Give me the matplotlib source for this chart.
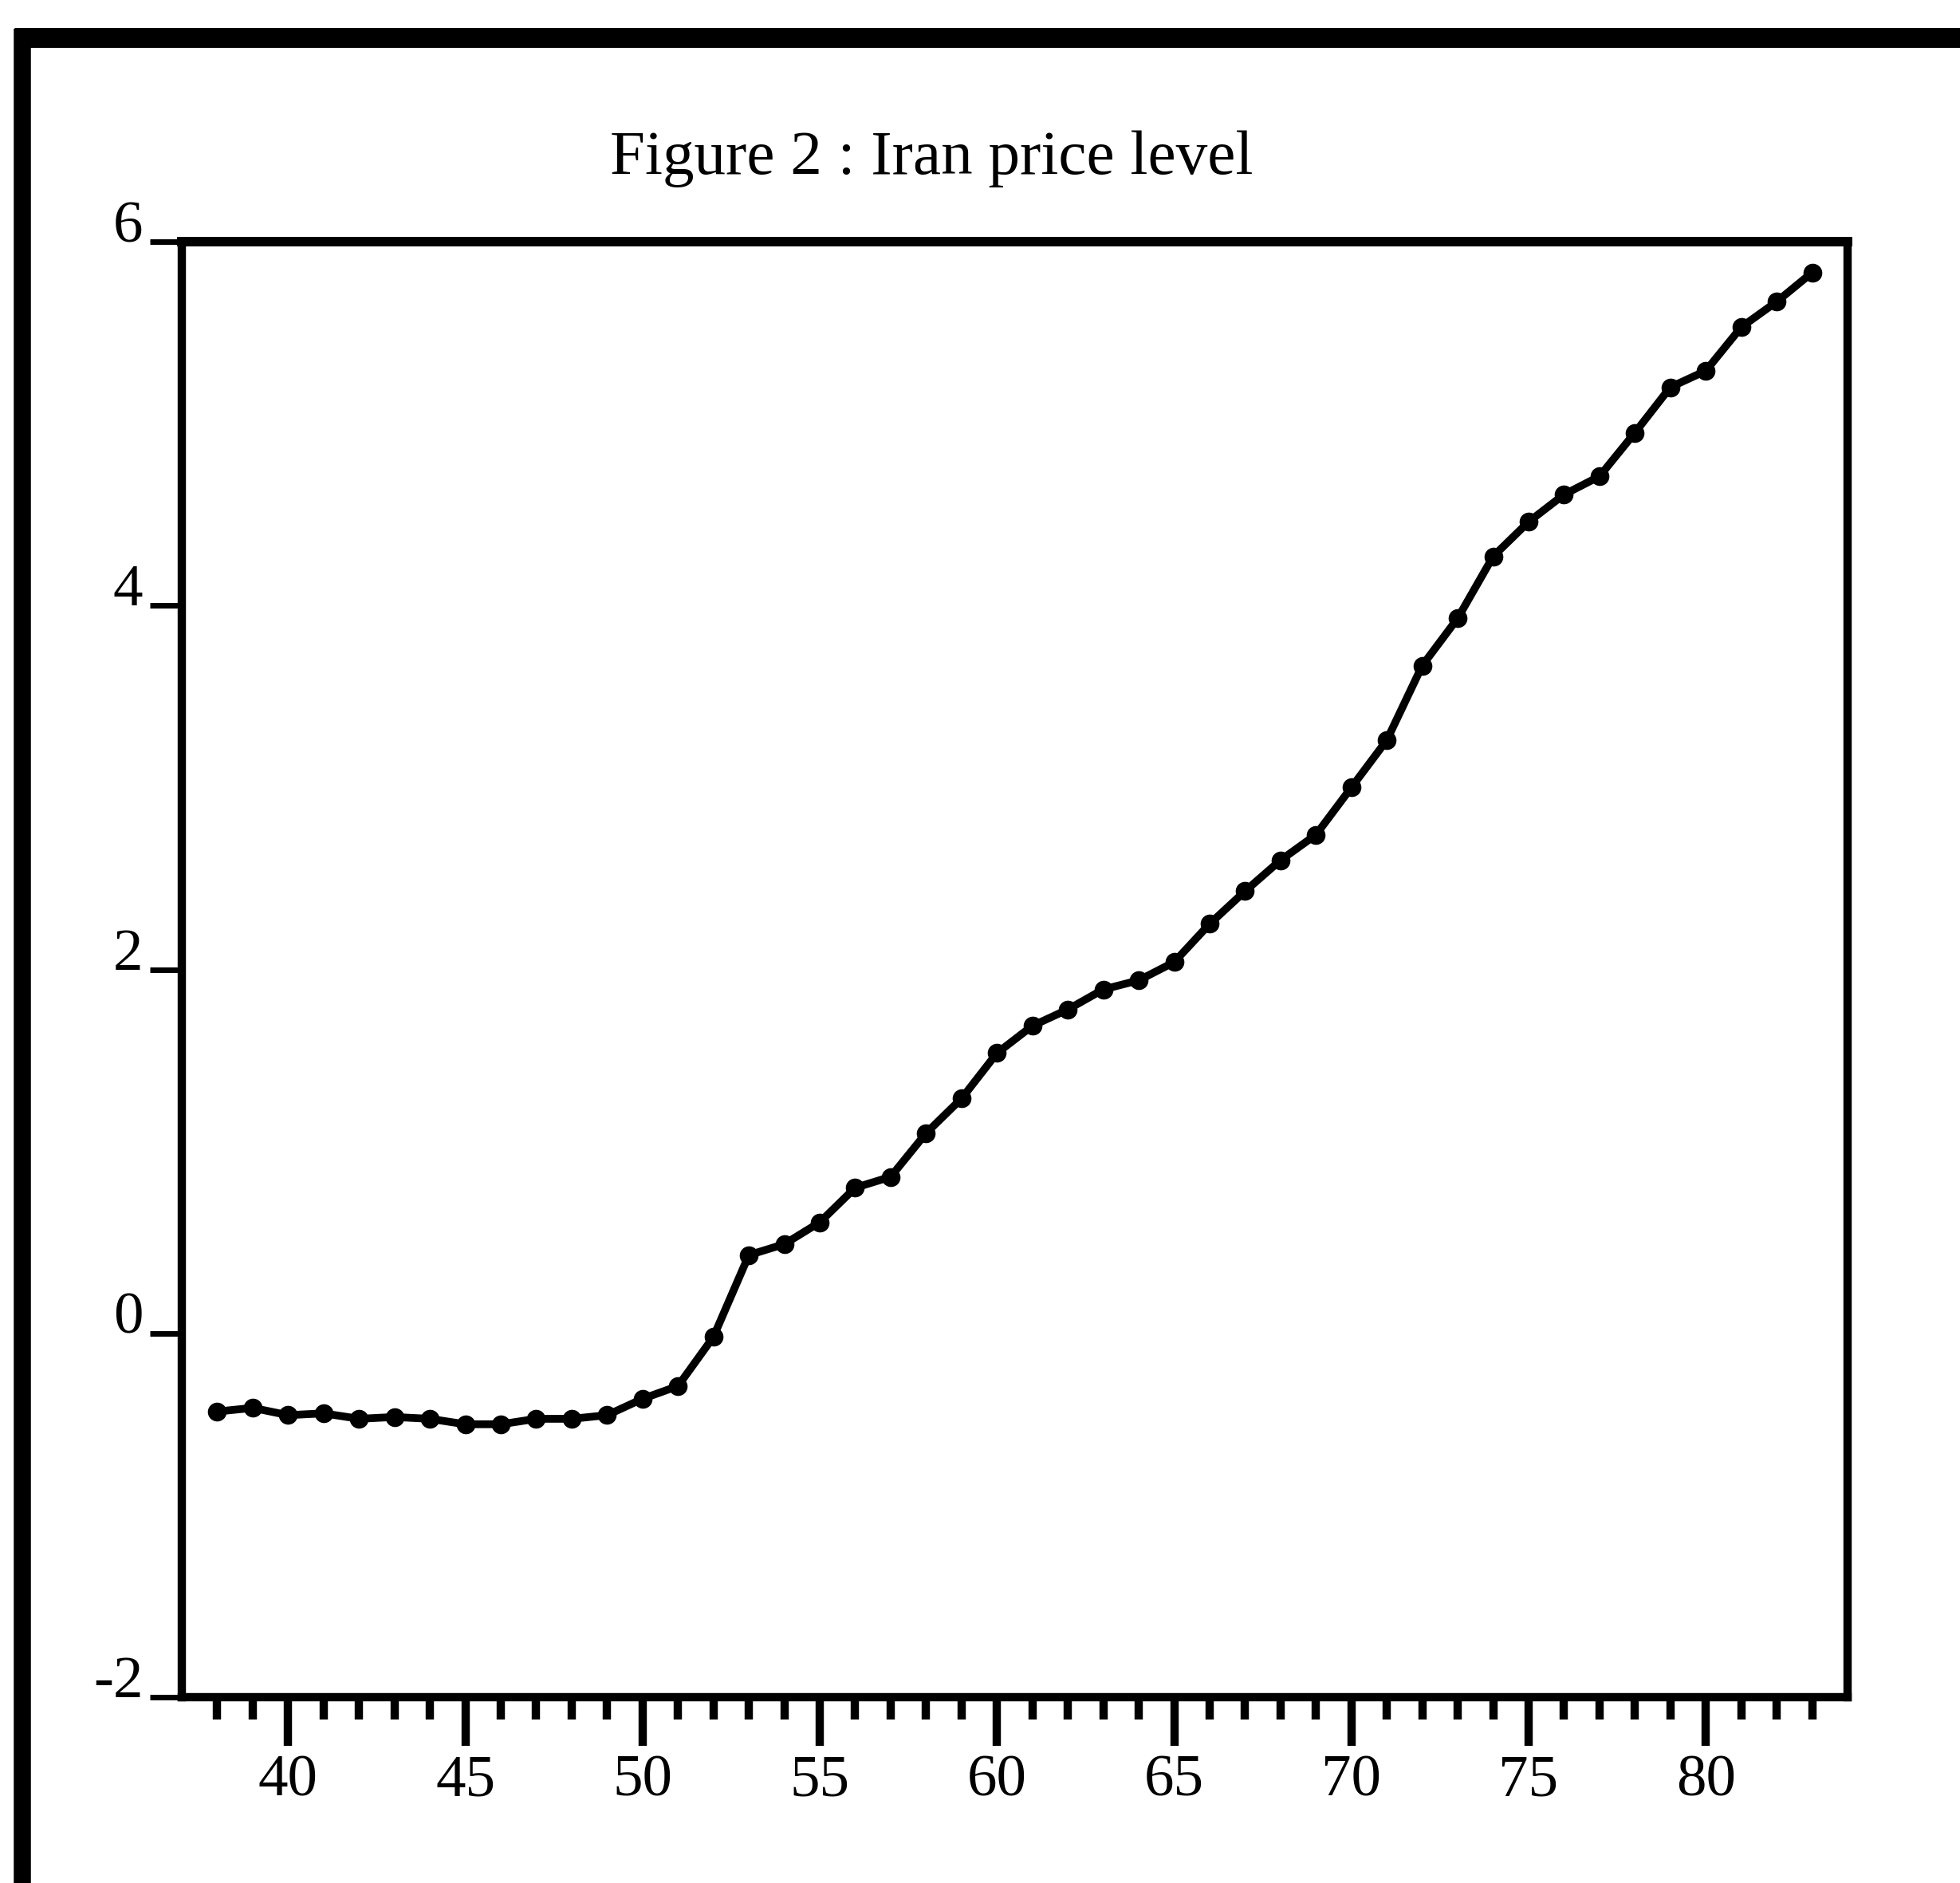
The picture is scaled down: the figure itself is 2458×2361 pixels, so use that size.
import matplotlib
matplotlib.use("Agg")
import matplotlib.pyplot as plt
from matplotlib.lines import Line2D
from matplotlib.ticker import FixedLocator

# ---- data ----
years = list(range(38, 84))
price_level = [-0.43, -0.41, -0.45, -0.44, -0.47, -0.46, -0.47, -0.50, -0.50, -0.47,
               -0.47, -0.45, -0.36, -0.29, -0.02, 0.43, 0.49, 0.61, 0.80, 0.86,
               1.10, 1.29, 1.54, 1.69, 1.78, 1.89, 1.94, 2.04, 2.25, 2.43,
               2.60, 2.74, 3.00, 3.26, 3.67, 3.93, 4.27, 4.46, 4.61, 4.71,
               4.95, 5.20, 5.29, 5.53, 5.67, 5.83]
x_major_ticks = [40, 45, 50, 55, 60, 65, 70, 75, 80]
x_tick_labels = ["40", "45", "50", "55", "60", "65", "70", "75", "80"]
y_ticks = [-2, 0, 2, 4, 6]
y_tick_labels = ["-2", "0", "2", "4", "6"]
title = "Figure 2 : Iran price level"

plt.rcParams['font.family'] = ['Liberation Serif', 'DejaVu Serif']

W, H = 2458, 2361
fig = plt.figure(figsize=(W / 100, H / 100), dpi=100)
fig.patch.set_facecolor("white")

left, right, top, bottom = 228, 2317, 303, 2128
ax = fig.add_axes([left / W, 1 - bottom / H, (right - left) / W, (bottom - top) / H])

ax.plot(years, price_level, color="black", lw=7, marker="o", markersize=16,
        markerfacecolor="black", markeredgecolor="black", solid_capstyle="round",
        solid_joinstyle="round")

ax.set_xlim(37, 84)
ax.set_ylim(-2, 6)

for name, s in ax.spines.items():
    s.set_linewidth(8.5 if name == "top" else 7.5)
    s.set_color("black")

ax.xaxis.set_major_locator(FixedLocator(x_major_ticks))
ax.xaxis.set_minor_locator(FixedLocator([y for y in range(38, 84) if y % 5 != 0]))
ax.set_xticklabels(x_tick_labels)
ax.set_yticks(y_ticks)
ax.set_yticklabels(y_tick_labels)

ax.tick_params(axis="x", which="major", direction="out", length=44, width=7.5,
               pad=8, labelsize=54, top=False)
ax.tick_params(axis="x", which="minor", direction="out", length=20, width=7.5, top=False)
ax.tick_params(axis="y", which="major", direction="out", length=29, width=5,
               pad=6, labelsize=54, right=False)
for t in ax.get_yticklabels():
    t.set_verticalalignment("baseline")

# title
fig.text(1168 / W, 1 - 218 / H, title, ha="center", va="baseline", fontsize=57)

# outer frame (left and top edges of the scanned page frame)
fig.add_artist(Line2D([28 / W, 28 / W], [0, 1 - 36 / H], transform=fig.transFigure,
                      color="black", lw=15.5, solid_capstyle="butt"))
fig.add_artist(Line2D([18 / W, 1], [1 - 47 / H, 1 - 47 / H], transform=fig.transFigure,
                      color="black", lw=18, solid_capstyle="butt"))

fig.savefig("out.png", dpi=100, facecolor="white")
